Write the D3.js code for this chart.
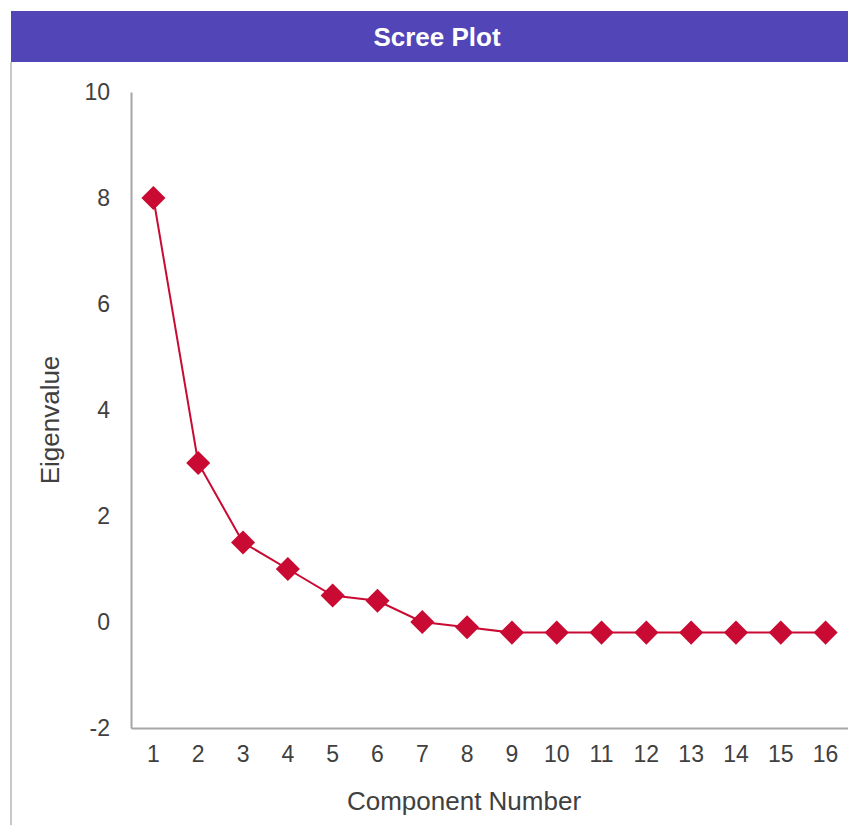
<!DOCTYPE html>
<html>
<head>
<meta charset="utf-8">
<script src="https://cdn.jsdelivr.net/npm/d3@7"></script>
<style>
body { margin: 0; background: #fff; }
text { font-family: "Liberation Sans", Arial, sans-serif; }
</style>
</head>
<body>
<div id="graphArea"></div>
<script>
// scree plot data
var components = ["1","2","3","4","5","6","7","8","9","10","11","12","13","14","15","16"];
var eigenvalues = [8, 3, 1.5, 1, 0.5, 0.4, 0, -0.1, -0.2, -0.2, -0.2, -0.2, -0.2, -0.2, -0.2, -0.2];
var yTicks = [-2, 0, 2, 4, 6, 8, 10];

var W = 848, H = 825;
var plotLeft = 131, plotRight = 848, plotTop = 92, plotBottom = 728;

var svg = d3.select("#graphArea")
  .append("svg")
  .attr("width", W)
  .attr("height", H);

// header band
svg.append("rect")
  .attr("x", 11).attr("y", 11)
  .attr("width", W).attr("height", 51)
  .attr("fill", "#5245b8");
svg.append("text")
  .attr("x", 437).attr("y", 46)
  .attr("text-anchor", "middle")
  .attr("fill", "#fff")
  .style("font-size", "26px")
  .style("font-weight", "bold")
  .text("Scree Plot");
svg.append("line")
  .attr("x1", 11).attr("x2", 11)
  .attr("y1", 62).attr("y2", H)
  .attr("stroke", "#c8c8c8").attr("stroke-width", 2);

var x = d3.scaleBand()
  .domain(components)
  .range([plotLeft, plotRight]);

var y = d3.scaleLinear()
  .domain([-2, 10])
  .range([plotBottom, plotTop]);

// axes
var xAxis = svg.append("g")
  .attr("transform", "translate(0," + plotBottom + ")")
  .call(d3.axisBottom(x).tickSize(0).tickPadding(18));
var yAxis = svg.append("g")
  .attr("transform", "translate(" + plotLeft + ",0)")
  .call(d3.axisLeft(y).tickValues(yTicks).tickFormat(String).tickSize(0).tickPadding(21));

[xAxis, yAxis].forEach(function(a) {
  a.select(".domain").attr("stroke", "#a6a6a6").attr("stroke-width", 2);
  a.selectAll("text")
    .attr("fill", "#404040")
    .style("font-size", "23px")
    .style("font-family", "Liberation Sans, Arial, sans-serif");
});
xAxis.selectAll("text").attr("dy", "0.71em");

svg.append("text")
  .attr("x", 464).attr("y", 810)
  .attr("text-anchor", "middle")
  .attr("fill", "#404040")
  .style("font-size", "26px")
  .text("Component Number");
svg.append("text")
  .attr("transform", "translate(59,420)rotate(-90)")
  .attr("text-anchor", "middle")
  .attr("fill", "#404040")
  .style("font-size", "26px")
  .text("Eigenvalue");

var pts = components.map(function(c, i) { return [c, eigenvalues[i]]; });

svg.append("path")
  .datum(pts)
  .attr("fill", "none")
  .attr("stroke", "#c90a32")
  .attr("stroke-width", 2)
  .attr("d", d3.line()
    .x(function(d) { return x(d[0]) + x.bandwidth() / 2; })
    .y(function(d) { return y(d[1]); }));

svg.selectAll(".pt")
  .data(pts)
  .enter()
  .append("path")
  .attr("class", "pt")
  .attr("d", d3.symbol(d3.symbolSquare, 290))
  .attr("fill", "#c90a32")
  .attr("transform", function(d) {
    return "translate(" + (x(d[0]) + x.bandwidth() / 2) + "," + y(d[1]) + ")rotate(45)";
  });
</script>
</body>
</html>
